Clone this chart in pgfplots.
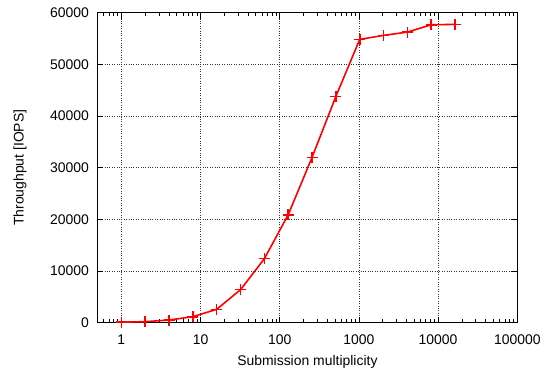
\documentclass[border=0pt]{standalone}
\usepackage{pgfplots}
\pgfplotsset{compat=1.18}
\usepackage{fontspec}
\setmainfont{Liberation Sans}
\begin{document}
\begin{tikzpicture}
\path[use as bounding box] (-97.5bp,-47.3bp) rectangle (456.5bp,322.7bp);
\begin{axis}[
  at={(0,0)}, anchor=south west,
  scale only axis, width=419.8bp, height=310bp,
  xmode=log, log basis x=10,
  xmin=0.5, xmax=100000, ymin=0, ymax=60000,
  xtick={1,10,100,1000,10000,100000},
  xticklabels={1,10,100,1000,10000,100000},
  minor xtick={0.6,0.7,0.8,0.9,2,3,4,5,6,7,8,9,20,30,40,50,60,70,80,90,200,300,400,500,600,700,800,900,2000,3000,4000,5000,6000,7000,8000,9000,20000,30000,40000,50000,60000,70000,80000,90000},
  ytick={0,10000,20000,30000,40000,50000,60000},
  scaled y ticks=false,
  /pgf/number format/set thousands separator={},
  /pgf/number format/assume math mode=true,
  tick align=inside,
  major tick length=6bp, minor tick length=3.5bp,
  tick style={black, line width=0.8pt},
  axis line style={line width=0.9pt},
  grid=major,
  major grid style={dotted, black!80, line width=0.6pt},
  ticklabel style={font=\fontsize{14}{16}\selectfont},
  xticklabel style={anchor=center, yshift=-17bp},
  yticklabel style={anchor=east, xshift=-5bp},
  xlabel={Submission multiplicity},
  ylabel={Throughput [IOPS]},
  label style={font=\fontsize{14}{16}\selectfont},
  xlabel style={at={(rel axis cs:0.5,0)}, anchor=center, yshift=-39bp},
  ylabel style={at={(rel axis cs:0,0.5)}, anchor=center, yshift=77.5bp},
]
\addplot[red, line width=1.6pt, mark=+, mark size=5.5bp, mark options={line width=1.6pt}] coordinates {
(1,100) (2,200) (4,520) (8,1160) (16,2590) (32,6390) (64,12390) (128,20900)
(256,32000) (512,43800) (1024,54840) (2048,55610) (4096,56250) (8192,57660) (16384,57740)
};
\end{axis}
\end{tikzpicture}
\end{document}
